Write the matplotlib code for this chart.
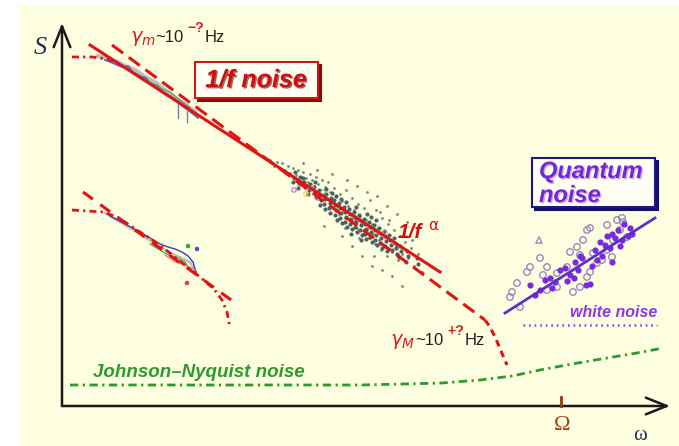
import matplotlib
matplotlib.use("Agg")
import matplotlib.pyplot as plt
from matplotlib.patches import Rectangle
import matplotlib.patheffects as pe

# ---------------- schematic data (arbitrary log-omega / log-S units) ----------------
# main 1/f fit line
fit_u = [28, 378]
fit_v = [361, 134]
# dashed model curve (1/f with high-frequency cutoff gamma_M)
dash_lin_u = [50, 423]
dash_lin_v = [361, 86]
dash_bend_u = [423, 428, 434, 439, 445]
dash_bend_v = [86, 79, 67, 55, 41]
# low-frequency saturation (gamma_m)
sat_u = [10, 30, 45, 58]
sat_v = [349, 349, 347, 342]
# lower-left example
low_dash_u = [21, 176]
low_dash_v = [214, 101]
low_curve_u = [10, 41, 55, 95, 138, 152, 160, 165, 168]
low_curve_v = [196, 194, 189, 163, 129, 117, 106, 94, 78]
low_blue_u = [48, 63, 78, 88, 98, 106, 113, 120, 126, 131, 134]
low_blue_v = [190, 182, 174, 168, 162, 159, 157, 154, 150, 144, 134]
low_green_u = [88, 98, 108, 116, 123, 128]
low_green_v = [162, 156, 150, 148, 144, 136]
low_gray_u = [43, 58, 78, 98, 113, 128, 135]
low_gray_v = [193, 184, 172, 159, 151, 144, 131]
low_pink_u = [103, 113, 123, 133]
low_pink_v = [151, 144, 141, 136]
# upper-left measured spectra
top_blue_u = [43, 53, 60, 66, 71, 78, 84, 88, 96, 101, 108, 114, 120, 126, 131, 136]
top_blue_v = [346, 342, 339, 340, 334, 330, 328, 323, 320, 314, 310, 306, 300, 296, 292, 288]
top_gray_u = [36, 46, 56, 63, 73, 83, 93, 103, 113, 123, 133]
top_gray_v = [350, 347, 344, 340, 336, 329, 324, 316, 308, 302, 294]
top_green_u = [78, 88, 98, 108, 118, 128]
top_green_v = [328, 324, 318, 314, 306, 298]
# central cloud of measured points (sparse halo)
cloud_u = [208, 212, 215, 218, 220, 223, 226, 228, 231, 234, 236, 239, 241, 244, 246, 248,
           250, 252, 254, 256, 258, 260, 262, 263, 265, 266, 268, 270, 271, 272, 274, 275,
           277, 278, 280, 281, 283, 284, 286, 287, 289, 290, 292, 293, 295, 296, 298, 299,
           301, 302, 304, 305, 307, 308, 310, 311, 313, 314, 316, 317, 319, 320, 322, 323,
           325, 326, 328, 330, 332, 334, 336, 338, 340, 343, 346, 349, 352, 356, 360, 300,
           310, 320, 270, 285, 295, 305, 315, 325, 335, 345, 290, 330, 340, 280, 262, 241,
           255, 318, 327, 342, 350, 312, 297, 283]
cloud_v = [246, 240, 244, 238, 243, 236, 240, 233, 238, 231, 236, 229, 234, 228, 224, 232,
           226, 220, 229, 222, 216, 226, 212, 219, 208, 224, 214, 204, 198, 218, 210, 200,
           192, 212, 205, 196, 188, 216, 200, 192, 184, 208, 196, 186, 178, 202, 190, 182,
           172, 198, 186, 176, 168, 206, 182, 172, 162, 196, 178, 166, 156, 188, 172, 160,
           150, 182, 166, 154, 176, 160, 146, 170, 152, 164, 148, 158, 140, 152, 134, 150,
           140, 136, 232, 226, 220, 214, 210, 200, 192, 184, 160, 130, 120, 170, 180, 243,
           236, 194, 186, 174, 166, 150, 168, 178]
# central cloud (dense core along the fit)
core_u = [232, 233, 231, 237, 238, 236, 242, 243, 241, 247, 248, 246, 253, 252, 254, 253,
          258, 259, 257, 258, 263, 264, 262, 263, 264, 268, 269, 267, 268, 270, 273, 274,
          272, 273, 275, 274, 278, 279, 277, 278, 280, 279, 283, 284, 282, 283, 285, 284,
          288, 289, 287, 288, 290, 289, 293, 294, 292, 293, 295, 294, 298, 299, 297, 298,
          300, 299, 303, 304, 302, 303, 305, 304, 308, 309, 307, 308, 310, 309, 313, 314,
          312, 313, 315, 314, 318, 319, 317, 318, 320, 323, 324, 322, 323, 325, 328, 329,
          327, 330, 333, 334, 332, 335, 338, 339, 337, 345, 346, 344, 355, 356]
core_v = [228, 234, 224, 222, 229, 218, 224, 219, 228, 216, 222, 212, 214, 219, 209, 224,
          211, 206, 216, 201, 207, 212, 202, 197, 217, 203, 208, 198, 193, 213, 201, 196,
          206, 191, 186, 210, 198, 193, 203, 188, 183, 207, 194, 189, 199, 184, 179, 204,
          192, 187, 197, 182, 177, 172, 189, 184, 194, 179, 174, 199, 186, 181, 191, 176,
          171, 166, 182, 177, 187, 172, 192, 167, 179, 174, 184, 169, 164, 189, 176, 171,
          181, 166, 161, 186, 173, 168, 178, 163, 158, 170, 165, 175, 160, 155, 166, 161,
          171, 156, 163, 158, 168, 152, 160, 155, 149, 155, 150, 144, 148, 142]
cloud_col_u = [232, 238, 244, 250, 256, 261, 323]
cloud_col_v = [216, 222, 212, 218, 208, 214, 174]
cloud_col_c = ['#e060c0', '#c0a0e0', '#e0d040', '#f080a0', '#a060d0', '#60c0a0', '#e0a0a0']
# quantum noise region
qline_u = [443, 593]
qline_v = [93, 188]
q_fill_u = [468, 473, 483, 488, 493, 498, 503, 508, 513, 516, 520, 524, 528, 533, 538, 543,
            548, 550, 553, 558, 560, 566, 568, 550, 540, 530, 545, 556, 562, 570, 478, 490,
            505, 512, 518, 535]
q_fill_v = [121, 111, 126, 128, 124, 136, 138, 131, 144, 136, 148, 121, 122, 156, 164, 161,
            158, 172, 168, 160, 166, 170, 178, 144, 150, 140, 170, 176, 182, 172, 116, 118,
            125, 128, 150, 146]
q_open_u = [478, 485, 481, 495, 505, 515, 518, 525, 528, 545, 555, 561, 558, 545, 535, 528,
            525, 518, 511, 551, 565, 521, 508, 468, 465, 455, 450, 458, 448, 540, 550, 531,
            495, 485, 560]
q_open_v = [148, 139, 131, 133, 139, 159, 151, 176, 178, 181, 186, 184, 176, 156, 143, 134,
            129, 119, 114, 166, 169, 166, 154, 139, 134, 123, 114, 99, 109, 146, 149, 153,
            119, 116, 188]
white_u = [461, 595]
white_v = [81, 81]
# Johnson-Nyquist floor
jn_u = [8, 300, 380, 418, 450, 478, 510, 545, 575, 601]
jn_v = [21, 21, 23, 26, 30, 36, 42, 48, 53, 58]
omega_tick = 499

BG = '#fefee0'
RED = '#dd1515'
PURPLE = '#6a2cd0'
GREEN = '#2e9a2e'

fig = plt.figure(figsize=(6.79, 4.46), dpi=100)
fig.patch.set_facecolor('white')
ax = fig.add_axes([0, 0, 1, 1])
ax.set_xlim(-62, 617)
ax.set_ylim(-40, 406)
ax.axis('off')

ax.add_patch(Rectangle((-43, -40), 660, 441, facecolor=BG, edgecolor='none', zorder=0))

# axes with arrows
ax.annotate('', xy=(608, 0), xytext=(0, 0),
            arrowprops=dict(arrowstyle='->,head_length=0.75,head_width=0.3', lw=1.8,
                            color='#1a1a1a', mutation_scale=20, shrinkA=0, shrinkB=0), zorder=5)
ax.annotate('', xy=(0, 383), xytext=(0, 0),
            arrowprops=dict(arrowstyle='->,head_length=0.75,head_width=0.3', lw=1.8,
                            color='#1a1a1a', mutation_scale=20, shrinkA=0, shrinkB=0), zorder=5)
ax.plot([omega_tick, omega_tick], [0, 9], color='#8b3a10', lw=2, zorder=5)
ax.text(omega_tick + 1, -10, 'Ω', family='Liberation Serif', fontsize=16, color='#a0451a',
        ha='center', va='top')
ax.text(578, -29, 'ω', family='Liberation Serif', fontsize=15, color='#1f2f5a',
        ha='center', va='center')
ax.text(-22, 358, 'S', family='Liberation Serif', fontsize=19, style='italic',
        color='#1f2f5a', ha='center', va='center')

# measured data
ax.plot(top_gray_u, top_gray_v, color='#a0a8b0', lw=3.0, alpha=0.7, zorder=2)
ax.plot(top_blue_u, top_blue_v, color='#5060c0', lw=1.2, zorder=2)
ax.plot(top_green_u, top_green_v, color='#60a060', lw=0.9, zorder=2)
ax.plot([116, 116], [306, 288], color='#7080a0', lw=1.0, zorder=2)
ax.plot([125, 125], [298, 284], color='#7080b0', lw=1.0, zorder=2)
ax.plot(low_gray_u, low_gray_v, color='#a8a8a8', lw=1.8, alpha=0.7, zorder=2)
ax.plot(low_blue_u, low_blue_v, color='#3040c0', lw=1.0, zorder=2)
ax.plot(low_green_u, low_green_v, color='#40a040', lw=0.9, zorder=2)
ax.plot(low_pink_u, low_pink_v, color='#e08080', lw=0.9, zorder=2)
ax.scatter([126, 135, 125], [160, 157, 123], s=5, c=['#40a040', '#4050d0', '#e04040'], zorder=2)
ax.scatter(cloud_u, cloud_v, s=4, c='#4f6a6a', linewidths=0, alpha=0.8, zorder=2)
ax.scatter(core_u, core_v, s=9, c='#3a5454', linewidths=0, alpha=0.9, zorder=2)
ax.scatter(cloud_col_u, cloud_col_v, s=10, facecolors='none', edgecolors=cloud_col_c,
           linewidths=0.8, zorder=2)

# model lines
ax.plot(fit_u, fit_v, color=RED, lw=2.2, zorder=3)
ax.plot(dash_lin_u, dash_lin_v, color=RED, lw=2.2, linestyle=(0, (4.5, 2.3)), zorder=3)
ax.plot(dash_bend_u, dash_bend_v, color=RED, lw=2.2, linestyle=(0, (2.2, 1.6)), zorder=3)
ax.plot(sat_u, sat_v, color=RED, lw=2.0, linestyle=(0, (2.5, 1.5, 0.8, 1.5)), zorder=3)
ax.plot(low_dash_u, low_dash_v, color=RED, lw=2.2, linestyle=(0, (4.0, 3.0)), zorder=3)
ax.plot(low_curve_u, low_curve_v, color=RED, lw=2.0, linestyle=(0, (2.5, 1.5, 0.8, 1.5)), zorder=3)

# quantum noise
ax.scatter(q_open_u, q_open_v, s=22, facecolors='none', edgecolors='#9a88c0', linewidths=1.0, zorder=2)
ax.scatter(q_fill_u, q_fill_v, s=20, c='#7a2ad8', linewidths=0, zorder=3)
ax.scatter([477], [166], s=20, marker='^', facecolors='none', edgecolors='#9a88c0', linewidths=1.0, zorder=2)
ax.plot(qline_u, qline_v, color='#5a30c8', lw=2.0, zorder=4)
ax.plot(white_u, white_v, color='#8a5ae0', lw=2.0, linestyle=(0, (0.6, 1.4)), zorder=3)
ax.text(595, 89, 'white noise', family='Liberation Sans', fontsize=11.5, weight='bold',
        style='italic', color='#8a3ae8', ha='right', va='baseline')

# Johnson-Nyquist
ax.plot(jn_u, jn_v, color=GREEN, lw=2.0, linestyle=(0, (3.0, 1.6, 0.8, 1.6)), zorder=3)
ax.text(31, 29, 'Johnson–Nyquist noise', family='Liberation Sans', fontsize=13.5,
        weight='bold', style='italic', color=GREEN, ha='left', va='baseline')

# boxes
def shadow_box(x0, y0, w, h, edge, shadow):
    ax.add_patch(Rectangle((x0 + 3, y0 - 3), w, h, facecolor=shadow, edgecolor=shadow, lw=1.5, zorder=5))
    ax.add_patch(Rectangle((x0, y0), w, h, facecolor='#fffff4', edgecolor=edge, lw=1.5, zorder=6))

shadow_box(133, 308, 123, 36, '#c81818', '#8a0a0a')
ax.text(194, 326, '1/f noise', family='Liberation Sans', fontsize=18, weight='bold',
        style='italic', color='#cc1010', ha='center', va='center', zorder=7,
        path_effects=[pe.withSimplePatchShadow(offset=(1, -1), shadow_rgbFace='#700000', alpha=0.6)])
shadow_box(470, 199, 123, 49, '#1a1a80', '#10106a')
ax.text(477, 228, 'Quantum', family='Liberation Sans', fontsize=17, weight='bold',
        style='italic', color='#6a2ad8', ha='left', va='baseline', zorder=7,
        path_effects=[pe.withSimplePatchShadow(offset=(1, -1), shadow_rgbFace='#d080d0', alpha=0.7)])
ax.text(477, 204, 'noise', family='Liberation Sans', fontsize=17, weight='bold',
        style='italic', color='#6a2ad8', ha='left', va='baseline', zorder=7,
        path_effects=[pe.withSimplePatchShadow(offset=(1, -1), shadow_rgbFace='#d080d0', alpha=0.7)])

# 1/f^alpha label
ax.text(336, 168, '1/f', family='Liberation Sans', fontsize=15, weight='bold',
        style='italic', color='#cc1010', ha='left', va='baseline', zorder=7)
ax.text(366, 176, 'α', family='DejaVu Sans', fontsize=11, color='#cc1010',
        ha='left', va='baseline', zorder=7)

# gamma labels
def gamma_label(u, v, sub, sign):
    ax.text(u, v, r'$\gamma_{%s}$' % sub, fontsize=14, color='#d02020', ha='left', va='baseline', zorder=7)
    ax.text(u + 25, v, '~10', family='Liberation Sans', fontsize=12, color='#202020',
            ha='left', va='baseline', zorder=7)
    ax.text(u + 57, v + 10, sign + '?', family='Liberation Sans', fontsize=10, weight='bold',
            color='#d02020', ha='left', va='baseline', zorder=7)
    ax.text(u + 75, v, 'Hz', family='Liberation Sans', fontsize=12, color='#202020',
            ha='left', va='baseline', zorder=7)

gamma_label(68, 364, 'm', '−')
gamma_label(328, 61, 'M', '+')

fig.savefig('out.png', dpi=100, facecolor='white')
